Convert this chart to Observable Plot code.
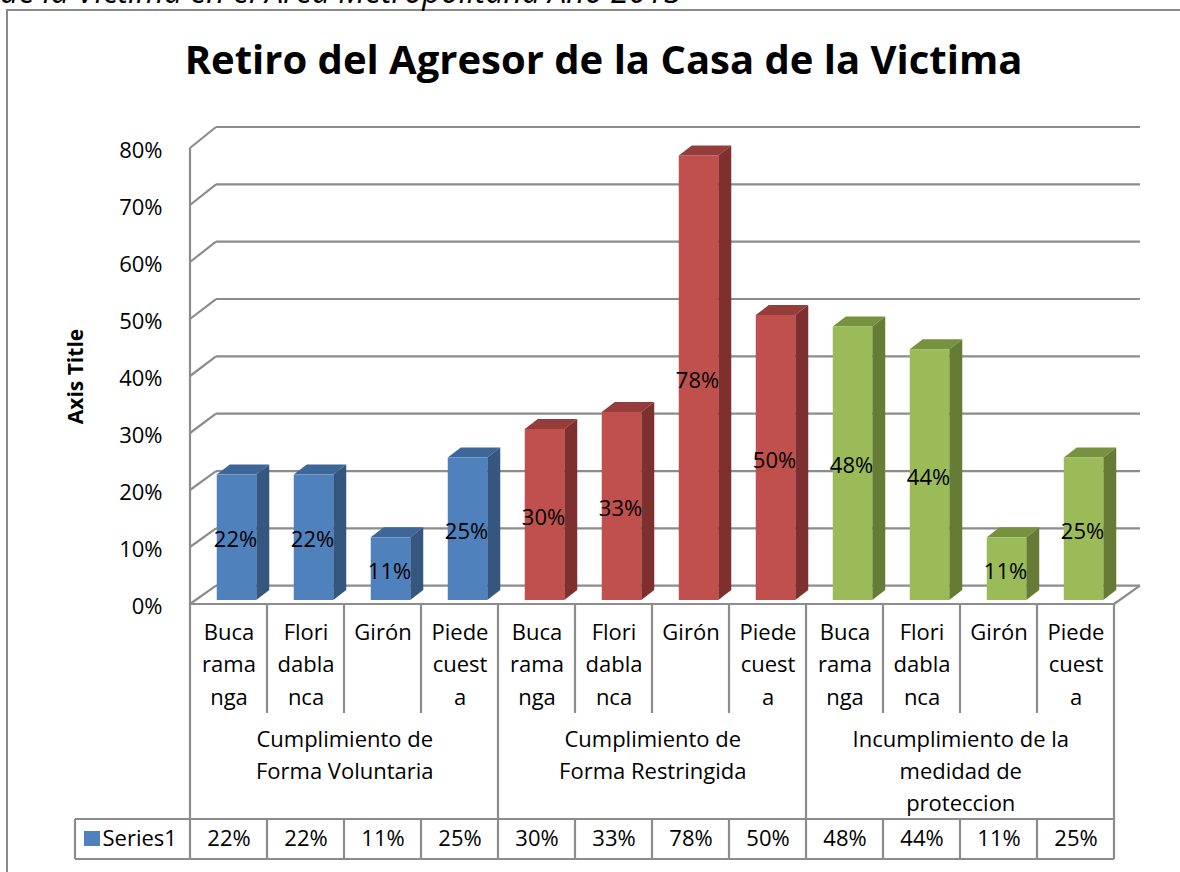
<!DOCTYPE html>
<html>
<head>
<meta charset="utf-8">
<script src="https://cdn.jsdelivr.net/npm/d3@7"></script>
<script src="https://cdn.jsdelivr.net/npm/@observablehq/plot@0.6"></script>
<style>
  html, body { margin: 0; padding: 0; background: #fff; width: 1180px; height: 872px; overflow: hidden; }
  #wrap { position: relative; width: 1180px; height: 872px; overflow: hidden; }
  #frame { position: absolute; left: 6px; top: 9px; width: 1300px; height: 1000px; border: 2px solid #8a8a8a; box-sizing: border-box; }
  #cut { position: absolute; left: 0; top: -25px; font: italic 32px/32px "Open Sans", sans-serif; white-space: nowrap; color: #000; }
  #chart { position: absolute; left: 0; top: 0; }
</style>
</head>
<body>
<div id="wrap">
  <div id="frame"></div>
  <div id="cut">de la Victima en el Área Metropolitana Año 2013</div>
  <div id="chart"></div>
</div>
<script>
// ---------- data ----------
const title = "Retiro del Agresor de la Casa de la Victima";
const yAxisTitle = "Axis Title";
const seriesName = "Series1";
const groups = ["Cumplimiento de Forma Voluntaria", "Cumplimiento de Forma Restringida", "Incumplimiento de la medidad de proteccion"];
const groupLabelLines = [["Cumplimiento de", "Forma Voluntaria"], ["Cumplimiento de", "Forma Restringida"], ["Incumplimiento de la", "medidad de", "proteccion"]];
const cities = ["Bucaramanga", "Floridablanca", "Girón", "Piedecuesta"];
const cityLabelLines = [["Buca", "rama", "nga"], ["Flori", "dabla", "nca"], ["Girón"], ["Piede", "cuest", "a"]];
const voluntaria = [0.22, 0.22, 0.11, 0.25];
const restringida = [0.30, 0.33, 0.78, 0.50];
const incumplimiento = [0.48, 0.44, 0.11, 0.25];
const yTicks = [0, 0.1, 0.2, 0.3, 0.4, 0.5, 0.6, 0.7, 0.8];

// ---------- styles ----------
const frontColors = ["#4F81BD", "#C0504D", "#9BBB59"];
const topColors = ["#3E6799", "#953D3A", "#77923F"];
const sideColors = ["#34567F", "#7E302E", "#667B35"];
const LINE = "#8c8c8c";
const FS = 22;

// ---------- table built from arrays ----------
const seriesByGroup = [voluntaria, restringida, incumplimiento];
const keys = [];
const rows = [];
seriesByGroup.forEach((vals, g) => vals.forEach((v, c) => {
  const key = groups[g] + "|" + cities[c];
  keys.push(key);
  rows.push({key, g, c, value: v});
}));
const groupRows = groups.map((name, g) => ({name, g, key: keys[g * 4 + 1]}));
const pct = d3.format(".0%");

// 3D geometry (pixels)
const DEPTH_X = 26;
const depthY = v => -(18.3 + 2.7 * v / 0.8);
const BAR_INSET = 18.75, BAR_DX = 8, BAR_DY = -4, SIDE_DX = 13, SIDE_DY = -10;

function getScales(args) {
  return args.find(a => a && typeof a.x === "function" && typeof a.y === "function");
}

// back wall, side wall & floor
const walls = (...args) => {
  const {x: X, y: Y} = getScales(args);
  const step = X(keys[1]) - X(keys[0]);
  const x0 = X(keys[0]), x1 = X(keys[keys.length - 1]) + step, y0 = Y(0);
  const g = d3.create("svg:g").attr("stroke", LINE).attr("stroke-width", 2.2).attr("fill", "none");
  for (const v of yTicks) {
    const yf = Y(v), yb = yf + depthY(v);
    g.append("line").attr("x1", x0 + DEPTH_X).attr("x2", x1 + DEPTH_X).attr("y1", yb).attr("y2", yb);
    g.append("line").attr("x1", x0).attr("y1", yf).attr("x2", x0 + DEPTH_X).attr("y2", yb);
  }
  g.append("line").attr("x1", x1).attr("y1", y0).attr("x2", x1 + DEPTH_X).attr("y2", y0 + depthY(0));
  return g.node();
};

// top and side faces of the bars
const barFaces = (...args) => {
  const {x: X, y: Y} = getScales(args);
  const step = X(keys[1]) - X(keys[0]);
  const g = d3.create("svg:g");
  for (const d of rows) {
    const bx0 = X(d.key) + BAR_INSET + BAR_DX;
    const bx1 = X(d.key) + step - BAR_INSET + BAR_DX;
    const yt = Y(d.value) + BAR_DY, yb = Y(0) + BAR_DY;
    g.append("polygon")
      .attr("points", [[bx0, yt], [bx1, yt], [bx1 + SIDE_DX, yt + SIDE_DY], [bx0 + SIDE_DX, yt + SIDE_DY]].join(" "))
      .attr("fill", topColors[d.g]);
    g.append("polygon")
      .attr("points", [[bx1, yt], [bx1 + SIDE_DX, yt + SIDE_DY], [bx1 + SIDE_DX, yb + SIDE_DY], [bx1, yb]].join(" "))
      .attr("fill", sideColors[d.g]);
  }
  return g.node();
};

// data table grid
const tableGrid = (...args) => {
  const {x: X, y: Y} = getScales(args);
  const step = X(keys[1]) - X(keys[0]);
  const x0 = X(keys[0]), x1 = X(keys[keys.length - 1]) + step, y0 = Y(0);
  const cityBottom = y0 + 109, rowTop = y0 + 215, rowBottom = y0 + 255, legendLeft = x0 - 115;
  const g = d3.create("svg:g");
  const lines = g.append("g").attr("stroke", LINE).attr("stroke-width", 2.2).attr("fill", "none");
  const L = (a, b, c, d) => lines.append("line").attr("x1", a).attr("y1", b).attr("x2", c).attr("y2", d);
  L(x0, Y(0.8), x0, rowBottom);
  L(x0, y0, x1, y0);
  L(x1, y0, x1, rowBottom);
  keys.forEach((k, i) => {
    if (i === 0) return;
    const xi = X(k);
    if (i % 4 === 0) L(xi, y0, xi, rowBottom);
    else { L(xi, y0, xi, cityBottom); L(xi, rowTop, xi, rowBottom); }
  });
  L(legendLeft, rowTop, x1, rowTop);
  L(legendLeft, rowBottom, x1, rowBottom);
  L(legendLeft, rowTop, legendLeft, rowBottom);
  g.append("rect").attr("x", x0 - 106).attr("y", y0 + 227).attr("width", 16).attr("height", 15).attr("fill", frontColors[0]);
  return g.node();
};

const cityMarks = [0, 1, 2].map(j => Plot.text(rows, {
  x: "key", frameAnchor: "bottom", lineAnchor: "middle", text: d => cityLabelLines[d.c][j] ?? "", dy: 28 + 32.5 * j, fontSize: FS
}));
const groupMarks = [0, 1, 2].map(j => Plot.text(groupRows, {
  x: "key", frameAnchor: "bottom", lineAnchor: "middle", text: d => groupLabelLines[d.g][j] ?? "", dx: 38.75, dy: 135 + 32 * j, fontSize: FS
}));

const chart = Plot.plot({
  width: 1180,
  height: 872,
  marginLeft: 187,
  marginRight: 63,
  marginTop: 148,
  marginBottom: 268,
  style: {fontFamily: "'Open Sans', sans-serif", fontSize: FS + "px", background: "transparent", color: "#000"},
  x: {type: "band", domain: keys, padding: 0, axis: null},
  y: {domain: [0, 0.8], axis: null},
  color: {type: "identity"},
  marks: [
    walls,
    barFaces,
    Plot.barY(rows, {x: "key", y: "value", fill: d => frontColors[d.g], insetLeft: BAR_INSET, insetRight: BAR_INSET, dx: BAR_DX, dy: BAR_DY}),
    Plot.text(rows, {x: "key", y: d => d.value / 2, text: d => pct(d.value), dx: 6.5, dy: -1.5, fontSize: FS}),
    Plot.text(yTicks, {y: d => d, text: d => pct(d), frameAnchor: "left", lineAnchor: "middle", textAnchor: "end", dx: -25, dy: 2, fontSize: FS}),
    Plot.text([yAxisTitle], {frameAnchor: "left", lineAnchor: "middle", textAnchor: "middle", dx: -111, rotate: -90, fontWeight: "bold", fontSize: 21}),
    Plot.text([title], {frameAnchor: "top", lineAnchor: "middle", textAnchor: "middle", dx: -49, dy: -87, fontWeight: "bold", fontSize: 40}),
    tableGrid,
    ...cityMarks,
    ...groupMarks,
    Plot.text(rows, {x: "key", frameAnchor: "bottom", lineAnchor: "middle", text: d => pct(d.value), dy: 234, fontSize: FS}),
    Plot.text([seriesName], {frameAnchor: "bottom-left", lineAnchor: "middle", textAnchor: "start", dx: -85, dy: 234, fontSize: FS})
  ]
});
document.getElementById("chart").appendChild(chart);
</script>
</body>
</html>
